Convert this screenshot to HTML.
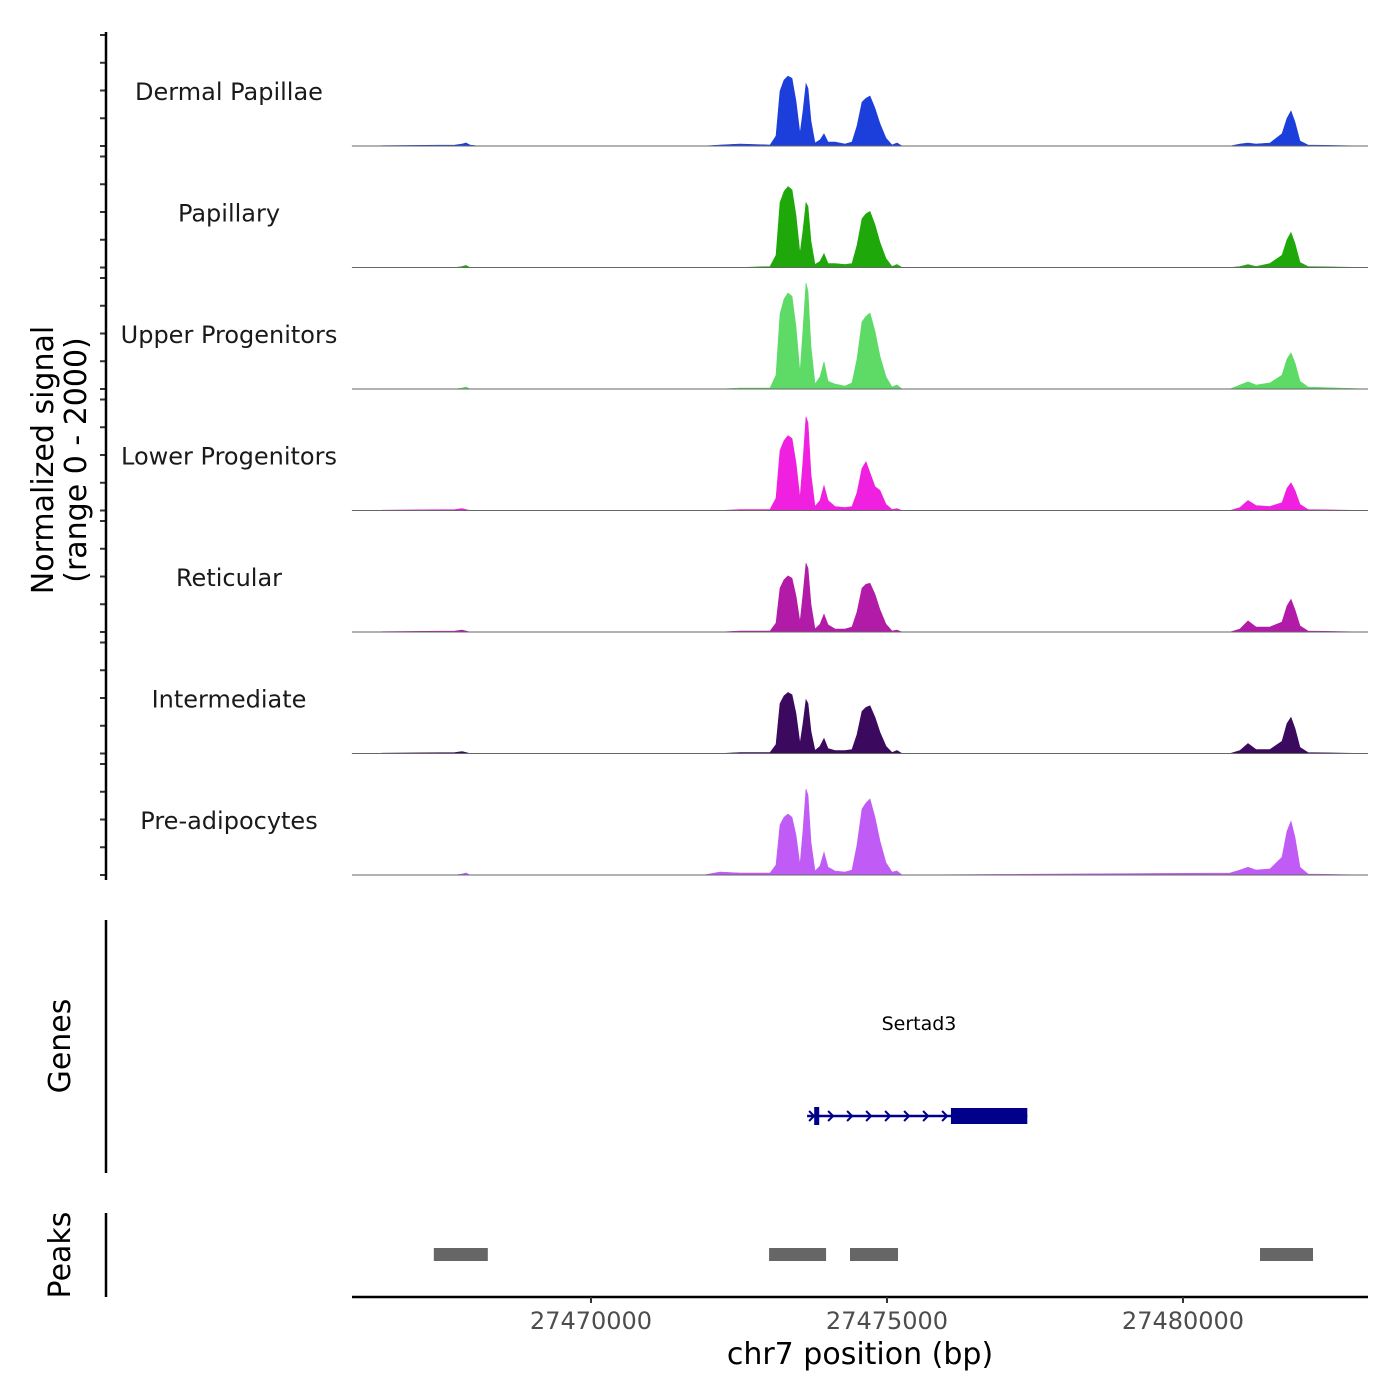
<!DOCTYPE html>
<html><head><meta charset="utf-8">
<style>
html,body{margin:0;padding:0;background:#fff;}
svg{display:block;font-family:"DejaVu Sans","Liberation Sans",sans-serif;}
</style></head>
<body>
<svg id="chart" width="1400" height="1400" viewBox="0 0 1400 1400" xmlns="http://www.w3.org/2000/svg">
<rect width="1400" height="1400" fill="#fff"/>
<g id="tracks"></g>
<g id="yaxis"></g>
<text transform="translate(53,460) rotate(-90)" text-anchor="middle" font-size="30" fill="#000">Normalized signal</text>
<text transform="translate(86,460) rotate(-90)" text-anchor="middle" font-size="30" fill="#000">(range 0 - 2000)</text>

<line x1="106" y1="920" x2="106" y2="1173" stroke="#000" stroke-width="2.5"/>
<text transform="translate(70,1046) rotate(-90)" text-anchor="middle" font-size="30">Genes</text>
<g id="genes"></g>

<line x1="106" y1="1213" x2="106" y2="1297" stroke="#000" stroke-width="2.5"/>
<text transform="translate(70,1255) rotate(-90)" text-anchor="middle" font-size="30">Peaks</text>
<g id="peaks"></g>

<g id="xaxis"></g>
<text x="860" y="1364" text-anchor="middle" font-size="30">chr7 position (bp)</text>
</svg>
<script>
const trackNames = ["Dermal Papillae","Papillary","Upper Progenitors","Lower Progenitors","Reticular","Intermediate","Pre-adipocytes"];
const trackColors = ["#1c3fdc","#1fa80a","#5ddb66","#f020e0","#b21aa8","#3b0a5e","#c05cf5"];
const positions = [27465960,27467703,27467821,27467888,27467956,27468100,27471900,27472179,27472517,27473024,27473125,27473193,27473260,27473328,27473396,27473463,27473531,27473581,27473632,27473666,27473716,27473784,27473868,27473936,27474004,27474122,27474291,27474409,27474493,27474578,27474645,27474713,27474797,27474882,27474983,27475084,27475169,27475253,27480794,27480963,27481098,27481233,27481469,27481672,27481757,27481824,27481892,27481976,27482111,27483125];
const dermalPapillae = [0,18,36,54,18,0,0, 18,36,18, 180,990,1190,1260,1220,810,220, 630,1120,1040,450,54, 110,220,72,72,36,72, 360,790,860,900,680,400,140,18,54,0, 0,36,54,36,54, 220,500,630,430,90,18,0];
const papillary = [0,0,18,36,0,0,0, 0,0,18, 220,1170,1370,1460,1400,940,250, 670,1170,1100,470,54, 110,250,72,72,54,72, 400,880,970,1010,770,450,160,18,54,0, 0,18,54,18,72, 220,500,630,430,90,18,0];
const upperProgenitors = [0,0,18,36,0,0,0, 0,18,18, 250,1350,1620,1730,1670,1120,290, 1080,1910,1760,760,90, 220,490,140,90,54,110, 540,1210,1310,1370,1040,590,220,36,72,0, 0,72,130,72,110, 250,540,650,470,140,36,0];
const lowerProgenitors = [0,18,36,18,0,0,0, 0,18,18, 220,1080,1260,1350,1300,860,220, 900,1690,1580,650,72, 180,450,180,72,54,72, 320,760,880,680,430,360,110,18,36,0, 0,54,180,90,72, 140,400,500,360,110,18,0];
const reticular = [0,18,36,18,0,0,0, 0,18,18, 160,790,940,1010,970,650,180, 680,1240,1150,500,54, 140,320,130,54,54,90, 360,790,860,880,680,400,140,18,36,0, 0,54,200,90,90, 180,470,590,400,110,18,0];
const intermediate = [0,18,36,18,0,0,0, 0,18,18, 160,900,1040,1100,1060,720,180, 540,970,900,400,54, 130,270,90,54,54,72, 340,760,830,860,650,380,130,18,54,0, 0,54,180,72,72, 220,540,650,450,110,18,0];
const preAdipocytes = [0,0,18,36,0,0,0, 54,36,36, 180,900,1040,1100,1040,720,180, 810,1550,1440,590,72, 160,410,140,72,54,90, 540,1190,1300,1370,1040,610,220,54,72,0, 36,90,140,90,110, 320,790,970,680,140,18,0];
const trackValues = [dermalPapillae,papillary,upperProgenitors,lowerProgenitors,reticular,intermediate,preAdipocytes];
const yTicks = [0,500,1000,1500,2000];
const xTicks = [27470000,27475000,27480000];
const peakStarts = [27467345,27473008,27474375,27481301];
const peakEnds = [27468257,27473971,27475186,27482196];
const geneName = "Sertad3";
const geneStart = 27473650;
const geneEnd = 27477370;
const cdsStart = 27473770;
const cdsEnd = 27473855;
const utrStart = 27476080;

const NS="http://www.w3.org/2000/svg";
function mk(tag,attrs,parent){const e=document.createElementNS(NS,tag);for(const k in attrs)e.setAttribute(k,attrs[k]);parent.appendChild(e);return e;}
const X0=352,X1=1368;
function xs(bp){return 591+(bp-27470000)*296/5000;}
const trackTop0=35, trackStep=121.5, pxPer=111/2000;
function baseY(i){return trackTop0+111+i*trackStep;}
function ys(i,v){return baseY(i)-v*pxPer;}

const tg=document.getElementById('tracks');
const ya=document.getElementById('yaxis');
trackValues.forEach((vals,i)=>{
  const g=mk('g',{},tg);
  
  
  let d='M'+xs(positions[0])+','+baseY(i);
  positions.forEach((p,j)=>{d+=' L'+xs(p).toFixed(1)+','+ys(i,vals[j]).toFixed(1);});
  d+=' L'+xs(positions[positions.length-1])+','+baseY(i)+' Z';
  const a=mk('path',{d:d,fill:trackColors[i],stroke:trackColors[i],'stroke-width':0.6},g);
  
  
  const bl=mk('line',{x1:X0,x2:X1,y1:baseY(i),y2:baseY(i),stroke:'#666','stroke-width':1},g);
  
  
  const t=mk('text',{x:229,y:baseY(i)-46,'text-anchor':'middle','font-size':24,fill:'#1a1a1a'},g);
  
  
  t.textContent=trackNames[i];
  yTicks.forEach(v=>{
    const tk=mk('line',{x1:100,x2:106,y1:ys(i,v),y2:ys(i,v),stroke:'#333','stroke-width':2},ya);
    
    
  });
});
const yl=mk('line',{x1:106,x2:106,y1:32,y2:880,stroke:'#000','stroke-width':2.5},ya);



const gg=document.getElementById('genes');
const gy=1116, navy='#00008b';
const gl=mk('line',{x1:xs(geneStart),x2:xs(geneEnd),y1:gy,y2:gy,stroke:navy,'stroke-width':2.5},gg);


const c1=mk('rect',{x:xs(cdsStart),y:gy-9,width:xs(cdsEnd)-xs(cdsStart),height:18,fill:navy},gg);


const c2=mk('rect',{x:xs(utrStart),y:gy-8,width:xs(geneEnd)-xs(utrStart),height:16,fill:navy},gg);


for(let x=xs(geneStart)+2;x<xs(utrStart)-8;x+=19){
  const ar=mk('path',{d:`M${x},${gy-5} L${x+5},${gy} L${x},${gy+5}`,fill:'none',stroke:navy,'stroke-width':2},gg);
  
  
}
const gt=mk('text',{x:919,y:1030,'text-anchor':'middle','font-size':19,fill:'#000'},gg);


gt.textContent=geneName;

const pg=document.getElementById('peaks');
peakStarts.forEach((s,i)=>{
  const r=mk('rect',{x:xs(s),y:1248,width:xs(peakEnds[i])-xs(s),height:13,fill:'#666'},pg);
  
  
});

const xa=document.getElementById('xaxis');
const xl=mk('line',{x1:X0,x2:X1,y1:1297,y2:1297,stroke:'#000','stroke-width':2.5},xa);


xTicks.forEach(v=>{
  const tk=mk('line',{x1:xs(v),x2:xs(v),y1:1297,y2:1303,stroke:'#333','stroke-width':2},xa);
  
  
  const tl=mk('text',{x:xs(v),y:1329,'text-anchor':'middle','font-size':24,fill:'#4d4d4d'},xa);
  
  
  tl.textContent=v;
});
</script>
</body></html>
